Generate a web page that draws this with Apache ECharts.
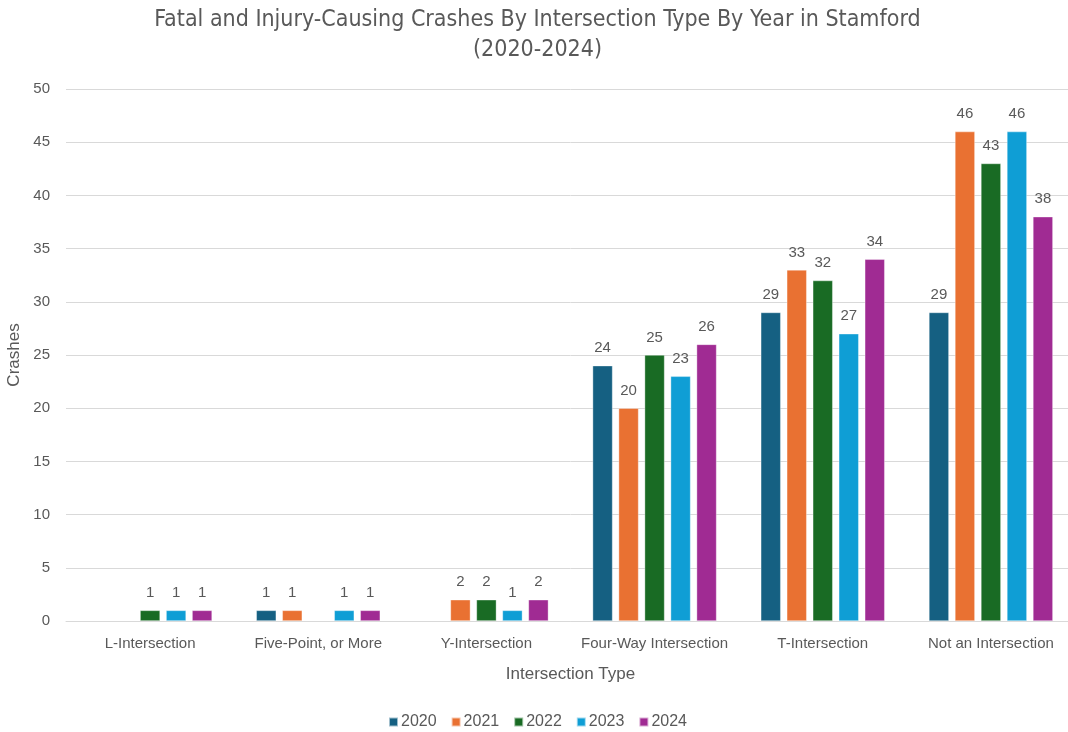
<!DOCTYPE html>
<html><head><meta charset="utf-8">
<script src="https://cdn.jsdelivr.net/npm/echarts@6/dist/echarts.min.js"></script>
<style>html,body{margin:0;padding:0;background:#fff;overflow:hidden}#c{width:1075px;height:732px}</style>
</head><body><div id="c"></div>
<script>
const categories = ['L-Intersection', 'Five-Point, or More', 'Y-Intersection', 'Four-Way Intersection', 'T-Intersection', 'Not an Intersection'];
const years = ['2020', '2021', '2022', '2023', '2024'];
const v2020 = [null, 1, null, 24, 29, 29];
const v2021 = [null, 1, 2, 20, 33, 46];
const v2022 = [1, null, 2, 25, 32, 43];
const v2023 = [1, 1, 1, 23, 27, 46];
const v2024 = [1, 1, 2, 26, 34, 38];
const yTicks = [0, 5, 10, 15, 20, 25, 30, 35, 40, 45, 50];
const colors = ['#156082', '#E97132', '#196B24', '#0F9ED5', '#A02B93'];
const values = [v2020, v2021, v2022, v2023, v2024];
const font = 'Liberation Sans, Arial, sans-serif';
const chart = echarts.init(document.getElementById('c'));
chart.setOption({
  animation: false,
  title: {
    text: 'Fatal and Injury-Causing Crashes By Intersection Type By Year in Stamford\n(2020-2024)',
    left: 'center', top: 0,
    textStyle: {fontFamily: 'DejaVu Sans Condensed, Roboto, sans-serif', fontSize: 23, fontWeight: 'normal', color: '#595959', lineHeight: 30}
  },
  legend: {
    top: 709, left: 'center', itemWidth: 9, itemHeight: 9, itemGap: 14, icon: 'rect',
    textStyle: {fontFamily: font, fontSize: 16, color: '#595959', padding: [0,0,0,-2]},
    data: years
  },
  grid: {left: 66, right: 0, top: 89, bottom: 111, containLabel: false, outerBoundsMode: 'none'},
  xAxis: {
    type: 'category', data: categories,
    name: 'Intersection Type', nameLocation: 'middle', nameGap: 45,
    nameTextStyle: {fontFamily: font, fontSize: 17, color: '#595959'},
    axisLine: {lineStyle: {color: '#d9d9d9'}}, axisTick: {show: false},
    axisLabel: {fontFamily: font, fontSize: 15, color: '#595959', margin: 15, interval: 0}
  },
  yAxis: {
    type: 'value', min: yTicks[0], max: yTicks[yTicks.length-1], interval: 5,
    name: 'Crashes', nameLocation: 'middle', nameGap: 35, nameRotate: 90,
    nameTextStyle: {fontFamily: font, fontSize: 17, color: '#595959'},
    axisLine: {show: false}, axisTick: {show: false},
    axisLabel: {fontFamily: font, fontSize: 15, color: '#595959', margin: 16},
    splitLine: {lineStyle: {color: '#d9d9d9'}}
  },
  series: years.map((y, i) => ({
    name: y, type: 'bar', data: values[i], barWidth: 20, barGap: '30%',
    itemStyle: {color: colors[i], borderColor: 'rgba(255,255,255,0.6)', borderWidth: 0.6},
    label: {show: true, position: 'top', distance: 10, fontFamily: font, fontSize: 15, color: '#595959',
      formatter: p => (p.value == null ? '' : p.value)}
  }))
});
</script></body></html>
